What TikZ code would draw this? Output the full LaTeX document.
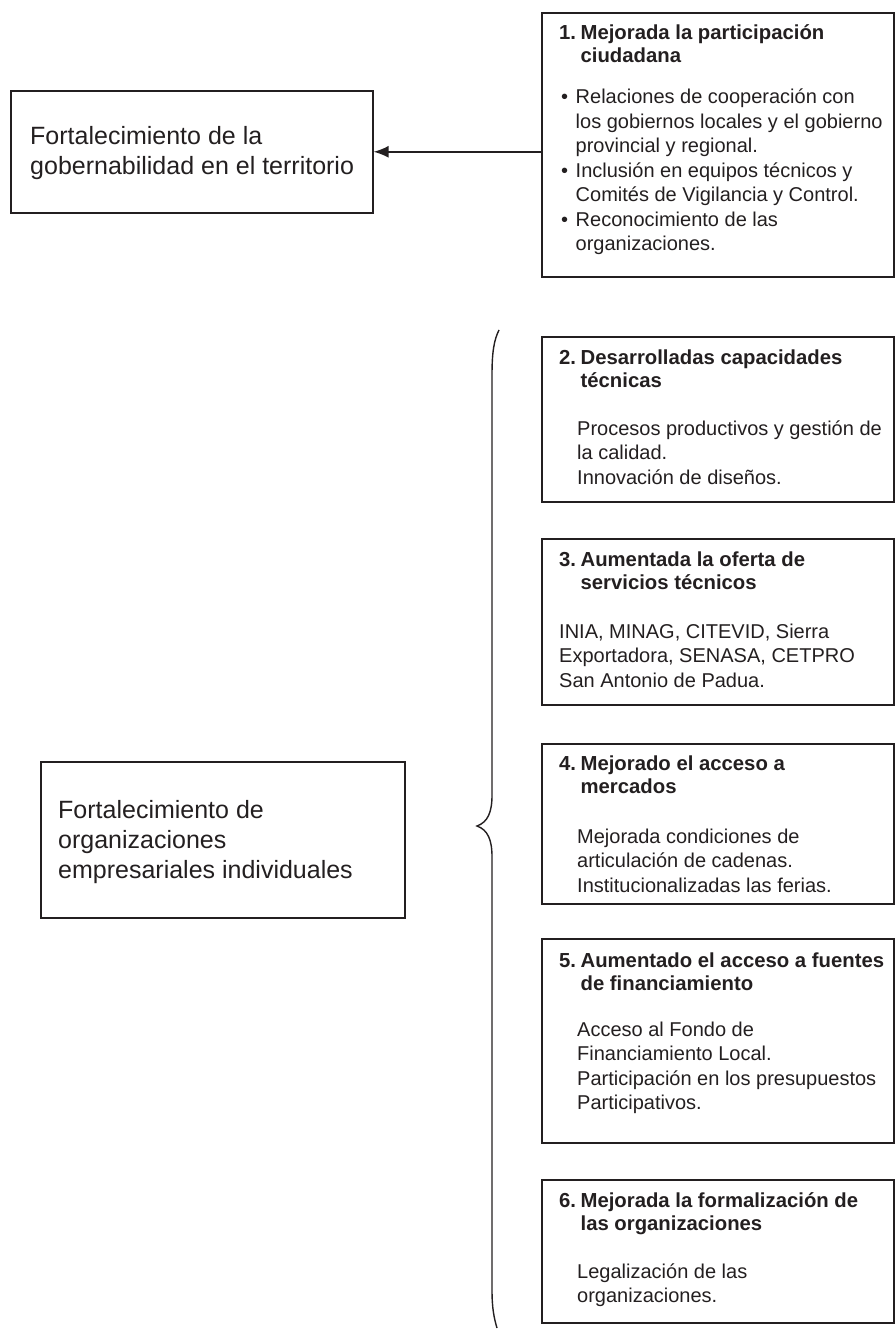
\documentclass[tikz,border=0pt]{standalone}
\usepackage{fontspec}
\setmainfont{Liberation Sans}
\usetikzlibrary{arrows.meta}
\definecolor{ink}{HTML}{231F20}
\newcommand\stack[1]{\begin{tabular}[t]{@{}l@{}}#1\end{tabular}}
\newcommand\numhead[2]{\begin{tabular}[t]{@{}l@{\hspace{4.5pt}}l@{}}#1 & #2\end{tabular}}
\begin{document}
\begin{tikzpicture}[x=1pt,y=-1pt,
  box/.style={draw=ink, line width=1.6pt, inner sep=0pt, anchor=north west},
  body/.style={inner sep=0pt, anchor=base west, text=ink, font=\fontsize{20}{24.5}\selectfont},
  head/.style={inner sep=0pt, anchor=base west, text=ink, font=\bfseries\fontsize{20.3}{23}\selectfont},
  big/.style={inner sep=0pt, anchor=base west, text=ink, font=\fontsize{25}{30}\selectfont},
  link/.style={draw=ink, line width=1.6pt},
  tip/.style={-{Latex[length=15pt,width=12pt]}}
]
\useasboundingbox (0,0) rectangle (895,1329);

% left-hand boxes
\node[box, minimum width=362pt, minimum height=122pt] (gob) at (10,90) {};
\node[big] (gobt) at (30,145) {\stack{Fortalecimiento de la\\gobernabilidad en el territorio}};

\node[box, minimum width=364pt, minimum height=156pt] (org) at (40,761) {};
\node[big] (orgt) at (58,818) {\stack{Fortalecimiento de\\organizaciones\\empresariales individuales}};

% right-hand result boxes
\node[box, minimum width=352pt, minimum height=264pt] (r1) at (541,12) {};
\node[head] (r1h) at (559,40) {\numhead{1.}{Mejorada la participación\\ & ciudadana}};
\node[body] (r1b) at (561,104) {\begin{tabular}[t]{@{}l@{\hspace{7.5pt}}l@{}}
  \textbullet & Relaciones de cooperación con\\
   & los gobiernos locales y el gobierno\\
   & provincial y regional.\\
  \textbullet & Inclusión en equipos técnicos y\\
   & Comités de Vigilancia y Control.\\
  \textbullet & Reconocimiento de las\\
   & organizaciones.
\end{tabular}};

\node[box, minimum width=352pt, minimum height=165pt] (r2) at (541,336) {};
\node[head] (r2h) at (559,364) {\numhead{2.}{Desarrolladas capacidades\\ & técnicas}};
\node[body] (r2b) at (577,435) {\stack{Procesos productivos y gestión de\\la calidad.\\Innovación de diseños.}};

\node[box, minimum width=352pt, minimum height=166pt] (r3) at (541,538) {};
\node[head] (r3h) at (559,566) {\numhead{3.}{Aumentada la oferta de\\ & servicios técnicos}};
\node[body] (r3b) at (559,638) {\stack{INIA, MINAG, CITEVID, Sierra\\Exportadora, SENASA, CETPRO\\San Antonio de Padua.}};

\node[box, minimum width=352pt, minimum height=160pt] (r4) at (541,743) {};
\node[head] (r4h) at (559,770) {\numhead{4.}{Mejorado el acceso a\\ & mercados}};
\node[body] (r4b) at (577,843) {\stack{Mejorada condiciones de\\articulación de cadenas.\\Institucionalizadas las ferias.}};

\node[box, minimum width=352pt, minimum height=204pt] (r5) at (541,938) {};
\node[head] (r5h) at (559,967) {\numhead{5.}{Aumentado el acceso a fuentes\\ & de financiamiento}};
\node[body] (r5b) at (577,1036) {\stack{Acceso al Fondo de\\Financiamiento Local.\\Participación en los presupuestos\\Participativos.}};

\node[box, minimum width=352pt, minimum height=143pt] (r6) at (541,1179) {};
\node[head] (r6h) at (559,1207) {\numhead{6.}{Mejorada la formalización de\\ & las organizaciones}};
\node[body] (r6b) at (577,1278) {\stack{Legalización de las\\organizaciones.}};

% arrow from result 1 to the governance box
\draw[link, tip] (gob.east -| r1.west) -- (gob.east);

% curly brace grouping results 2 to 6
\draw[link, line width=1.4pt]
  (499,330) .. controls (494,340) and (492,352) .. (492,375)
  -- (492,795)
  .. controls (492,812) and (488,822) .. (477,826)
  .. controls (488,830) and (492,840) .. (492,857)
  -- (492,1290)
  .. controls (492,1308) and (494,1318) .. (497,1328);
\end{tikzpicture}
\end{document}
